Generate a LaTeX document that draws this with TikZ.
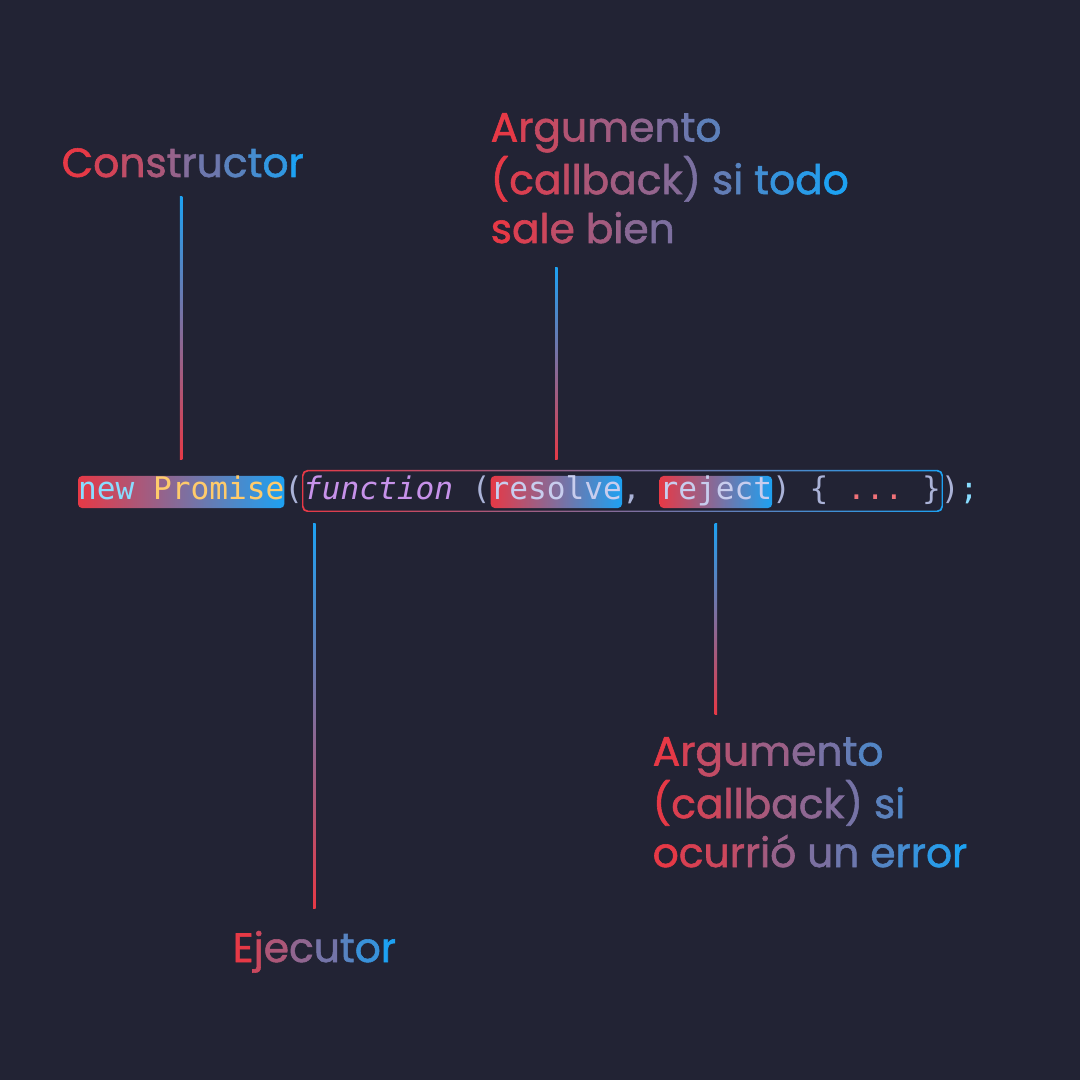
\documentclass[tikz,border=0pt]{standalone}
\usepackage{fontspec}
\usepackage{xcolor}
\usepackage{tikz}
\usetikzlibrary{positioning,calc}
\setmainfont{Poppins}[UprightFeatures={FakeBold=1.4}]
\newfontfamily\codefont{DejaVu Sans Mono}
\definecolor{bgnavy}{RGB}{34,35,52}
\definecolor{gred}{RGB}{230,57,70}
\definecolor{gblue}{RGB}{29,161,242}
\definecolor{cnew}{RGB}{137,221,255}
\definecolor{cprom}{RGB}{255,203,107}
\definecolor{cpunc}{RGB}{170,178,215}
\definecolor{cfunc}{RGB}{199,146,234}
\definecolor{cparam}{RGB}{200,205,238}
\definecolor{cdots}{RGB}{240,113,120}

% one colour per letter, from #1 to #2 percent of gblue
\ExplSyntaxOn
\int_new:N \l_grad_n_int
\int_new:N \l_grad_i_int
\tl_new:N \l_grad_pct_tl
\NewDocumentCommand{\gradtext}{mmm}
 {
  \int_set:Nn \l_grad_n_int { \str_count:n {#3} }
  \int_zero:N \l_grad_i_int
  \str_map_inline:nn {#3}
   {
    \tl_set:Nx \l_grad_pct_tl
     { \int_eval:n { #1 + (#2 - #1) * \l_grad_i_int / (\l_grad_n_int - 1) } }
    \str_if_eq:nnTF {##1} {~}
     { \c_space_tl }
     { \textcolor{gblue!\l_grad_pct_tl!gred}{##1} }
    \int_incr:N \l_grad_i_int
   }
 }
\ExplSyntaxOff

% vertical connector, blue on top fading to red
\newcommand\vconn[2]{\shade[top color=gblue,bottom color=gred] ($(#1)+(-1.25,0)$) rectangle ($(#2)+(1.25,0)$);}

\begin{document}
\begin{tikzpicture}[
 x=0.01cm,y=-0.01cm,
 lbl/.style={font=\fontsize{11.6}{13.9}\selectfont,inner sep=0pt,align=left,anchor=base west},
 code/.style={font=\codefont\fontsize{8.86}{10}\selectfont,inner xsep=0pt,inner ysep=0pt,outer sep=0pt,text height=0.24cm,text depth=0.08cm,text=cpunc},
 hl/.style={code,rounded corners=0.04cm,left color=gred,right color=gblue}
]
\fill[bgnavy] (0,0) rectangle (1080,1080);
\useasboundingbox (0,0) rectangle (1080,1080);

% code line
\node[hl,anchor=base west] (kw) at (78,500) {\textcolor{cnew}{new} \textcolor{cprom}{Promise}};
\node[code,right=0pt of kw] (p1) {(};
\node[code,right=0pt of p1] (fn) {\itshape\textcolor{cfunc}{function}};
\node[code,right=0pt of fn] (p2) {\ (};
\node[hl,right=0pt of p2] (res) {\textcolor{cparam}{resolve}};
\node[code,right=0pt of res] (p3) {,\hphantom{x}};
\node[hl,right=0pt of p3] (rej) {\textcolor{cparam}{reject}};
\node[code,right=0pt of rej] (p4) {)\ \{\ \textcolor{cdots}{...}\ \}};
\node[code,right=0pt of p4] (p5) {)\textcolor{cnew}{;}};

% executor frame
\coordinate (fa) at ($(fn.base west)+(-1,-30)$);
\coordinate (fb) at ($(p4.base east)+(2,12)$);
\shade[left color=gred,right color=gblue,even odd rule,rounded corners=0.05cm]
 (fa) rectangle (fb) ($(fa)+(1.3,1.3)$) rectangle ($(fb)+(-1.3,-1.3)$);

% labels (multi-line labels sit on their last line)
\node[lbl] (ctor) at (61,177) {\gradtext{0}{100}{Constructor}};
\node[lbl] (okarg) at (490,243) {\gradtext{0}{68}{Argumento}\\\gradtext{0}{100}{(callback) si todo}\\\gradtext{0}{52}{sale bien}};
\node[lbl] (errarg) at (652,867) {\gradtext{0}{73}{Argumento}\\\gradtext{0}{75}{(callback) si}\\\gradtext{0}{100}{ocurrió un error}};
\node[lbl] (ejec) at (232,962) {\gradtext{0}{100}{Ejecutor}};

% connectors
\coordinate (ctor-t) at ($(kw.north |- ctor.base)+(0,20)$);
\coordinate (ctor-b) at ($(kw.north)+(0,-16)$);
\vconn{ctor-t}{ctor-b}
\coordinate (ok-t) at ($(res.north |- okarg.base)+(0,25)$);
\coordinate (ok-b) at ($(res.north)+(0,-16)$);
\vconn{ok-t}{ok-b}
\coordinate (ex-t) at ($(ejec.base |- fb)+(0,11)$);
\coordinate (ex-b) at ($(ejec.base)+(0,-54)$);
\vconn{ex-t}{ex-b}
\coordinate (er-t) at ($(rej.south)+(0,15)$);
\coordinate (er-b) at ($(rej.south |- errarg.base)+(0,-153)$);
\vconn{er-t}{er-b}
\end{tikzpicture}
\end{document}
